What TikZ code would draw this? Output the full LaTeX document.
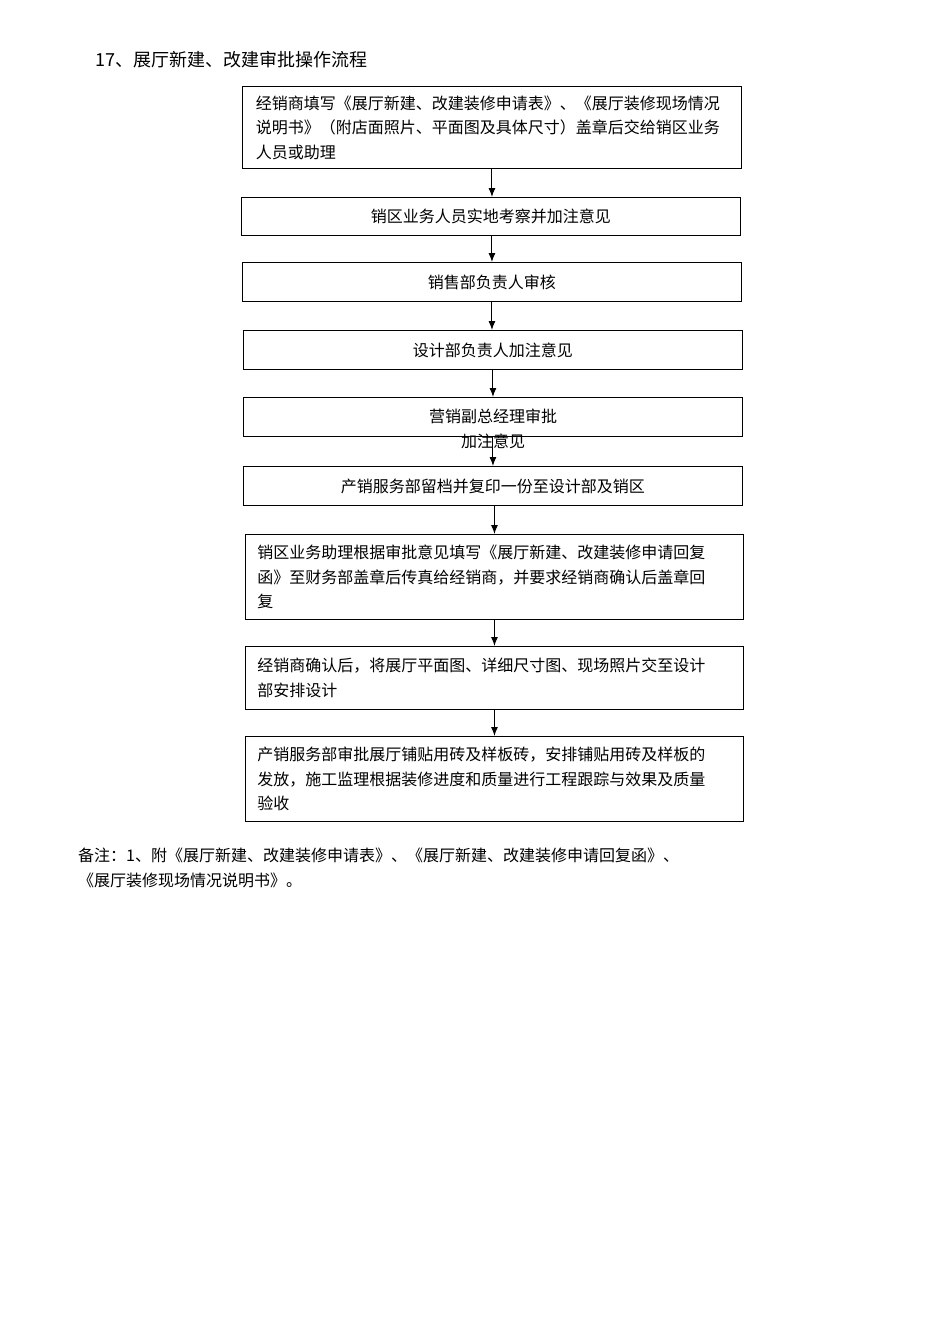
\documentclass[tikz,border=0pt]{standalone}
\usepackage{fontspec}
\setmainfont{Noto Sans CJK SC}
\usetikzlibrary{arrows.meta}
\begin{document}
\begin{tikzpicture}[x=1pt,y=-1pt,
  box/.style={draw, line width=0.9pt, anchor=north west, inner sep=0pt, font=\fontsize{16}{24.5}\selectfont},
  lbox/.style={box, align=left},
  arr/.style={-{Latex[length=9pt,width=7pt]}, line width=1pt},
  txt/.style={font=\fontsize{16}{24.5}\selectfont, inner sep=0pt}]
\useasboundingbox (0,0) rectangle (950,1344);
\node[txt, anchor=west, font=\fontsize{18}{20}\selectfont] (title) at (95,60) {17、展厅新建、改建审批操作流程};
\node[lbox, minimum width=499pt, minimum height=82pt, text width=472pt] (b1) at (242,86)
 {经销商填写《展厅新建、改建装修申请表》、《展厅装修现场情况\\说明书》（附店面照片、平面图及具体尺寸）盖章后交给销区业务\\人员或助理};
\node[box, minimum width=499pt, minimum height=38pt] (b2) at (241,197) {销区业务人员实地考察并加注意见};
\node[box, minimum width=499pt, minimum height=39pt] (b3) at (242,262) {销售部负责人审核};
\node[box, minimum width=499pt, minimum height=39pt] (b4) at (243,330) {设计部负责人加注意见};
\node[box, minimum width=499pt, minimum height=39pt] (b5) at (243,397) {};
\node[txt] (b5t) at (493,416) {营销副总经理审批};
\node[txt] (b5u) at (493,441) {加注意见};
\node[box, minimum width=499pt, minimum height=39pt] (b6) at (243,466) {产销服务部留档并复印一份至设计部及销区};
\node[lbox, minimum width=498pt, minimum height=85pt, text width=474pt] (b7) at (245,534)
 {销区业务助理根据审批意见填写《展厅新建、改建装修申请回复\\函》至财务部盖章后传真给经销商，并要求经销商确认后盖章回\\复};
\node[lbox, minimum width=498pt, minimum height=63pt, text width=474pt] (b8) at (245,646)
 {经销商确认后，将展厅平面图、详细尺寸图、现场照片交至设计\\部安排设计};
\node[lbox, minimum width=498pt, minimum height=85pt, text width=474pt] (b9) at (245,736)
 {产销服务部审批展厅铺贴用砖及样板砖，安排铺贴用砖及样板的\\发放，施工监理根据装修进度和质量进行工程跟踪与效果及质量\\验收};
\draw[arr] (b1.south) -- (b1.south |- b2.north);
\draw[arr] (b1.south |- b2.south) -- (b1.south |- b3.north);
\draw[arr] (b3.south) -- (b3.south |- b4.north);
\draw[arr] (b4.south) -- (b4.south |- b5.north);
\draw[arr] (b5.south) -- (b5.south |- b6.north);
\draw[arr] (b7.north |- b6.south) -- (b7.north);
\draw[arr] (b7.south) -- (b8.north);
\draw[arr] (b8.south) -- (b9.north);
\node[txt, anchor=west] (n1) at (78,855) {备注：1、附《展厅新建、改建装修申请表》、《展厅新建、改建装修申请回复函》、};
\node[txt, anchor=west] (n2) at (78,880) {《展厅装修现场情况说明书》。};
\end{tikzpicture}
\end{document}
